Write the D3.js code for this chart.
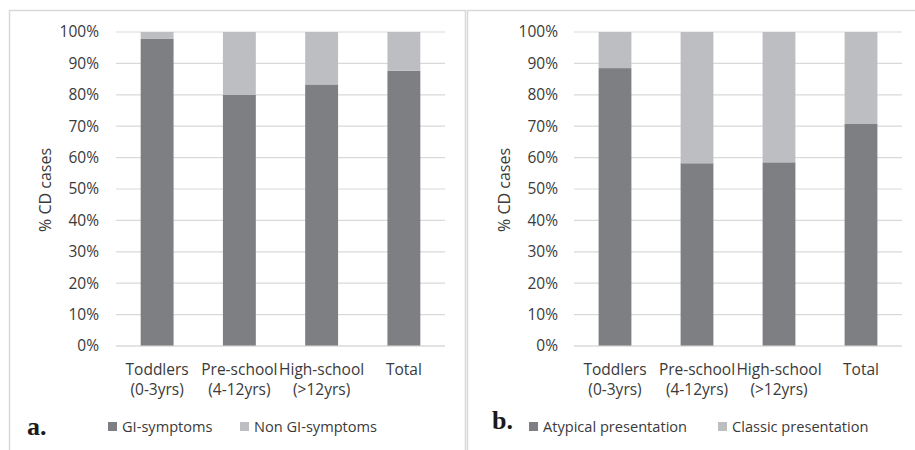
<!DOCTYPE html>
<html>
<head>
<meta charset="utf-8">
<script src="https://cdn.jsdelivr.net/npm/d3@7"></script>
<style>
  body { margin: 0; background: #fff; }
</style>
</head>
<body>
<div id="chart"></div>
<script>
// Data
const categories = [["Toddlers", "(0-3yrs)"], ["Pre-school", "(4-12yrs)"], ["High-school", "(>12yrs)"], ["Total"]];
const giSymptoms = [97.8, 80.0, 83.3, 87.7];
const nonGiSymptoms = [2.2, 20.0, 16.7, 12.3];
const atypical = [88.5, 58.2, 58.5, 70.7];
const classic = [11.5, 41.8, 41.5, 29.3];
const yTicks = [0, 10, 20, 30, 40, 50, 60, 70, 80, 90, 100];

const width = 915, height = 450;
const dark = "#7e7f83", light = "#bdbec1";
const textColor = "#3a3a3a";
const sans = "'Open Sans', sans-serif";

const svg = d3.select("#chart").append("svg")
  .attr("width", width)
  .attr("height", height);

function panel(opts) {
  const g = svg.append("g");

  // panel border
  g.append("rect")
    .attr("x", opts.box[0] + 0.5).attr("y", 10.5)
    .attr("width", opts.box[1]).attr("height", 500)
    .attr("fill", "none").attr("stroke", "#d9d9d9").attr("stroke-width", 1.5);

  const x = d3.scaleBand()
    .domain(categories.map((_, i) => i))
    .range(opts.xRange)
    .paddingInner(0.6)
    .paddingOuter(0.3);

  const y = d3.scaleLinear().domain([0, 100]).range([346, 32]);

  // gridlines
  g.selectAll(".grid")
    .data(yTicks)
    .enter().append("line")
    .attr("x1", opts.xRange[0]).attr("x2", opts.xRange[1])
    .attr("y1", d => y(d)).attr("y2", d => y(d))
    .attr("stroke", "#d9d9d9").attr("stroke-width", 1.2);

  // y axis labels
  const yAxis = g.append("g")
    .attr("transform", `translate(${opts.xRange[0]},0)`)
    .call(d3.axisLeft(y).tickValues(yTicks).tickFormat(d => d + "%").tickSize(0).tickPadding(opts.tickPad));
  yAxis.select(".domain").remove();
  yAxis.selectAll("text")
    .style("font-size", "15.5px").style("font-family", sans).style("fill", textColor);

  // stacked bars
  const stack = d3.stack().keys([0, 1])(opts.series[0].map((_, i) => ({ 0: opts.series[0][i], 1: opts.series[1][i] })));
  const colors = [dark, light];
  stack.forEach((layer, k) => {
    g.selectAll(".bar" + k)
      .data(layer)
      .enter().append("rect")
      .attr("x", (_, i) => x(i))
      .attr("width", x.bandwidth())
      .attr("y", d => y(d[1]))
      .attr("height", d => y(d[0]) - y(d[1]))
      .attr("fill", colors[k]);
  });

  // x axis line
  g.append("line")
    .attr("x1", opts.xRange[0]).attr("x2", opts.xRange[1])
    .attr("y1", y(0)).attr("y2", y(0))
    .attr("stroke", "#d9d9d9").attr("stroke-width", 1.2);

  // category labels
  categories.forEach((lines, i) => {
    const t = g.append("text")
      .attr("text-anchor", "middle")
      .style("font-size", "15.5px").style("font-family", sans).style("fill", textColor);
    lines.forEach((s, j) => {
      t.append("tspan")
        .attr("x", x(i) + x.bandwidth() / 2)
        .attr("y", 374.5 + j * 20.5)
        .text(s);
    });
  });

  // y title
  g.append("text")
    .attr("transform", `translate(${opts.titleX},190) rotate(-90)`)
    .attr("text-anchor", "middle")
    .style("font-size", "16px").style("font-family", sans).style("fill", textColor)
    .text("% CD cases");

  // panel letter
  g.append("text")
    .attr("x", opts.letter[1]).attr("y", opts.letter[2])
    .style("font-family", "'Liberation Serif', serif")
    .style("font-weight", "bold")
    .style("font-size", "26px")
    .style("fill", "#1a1a1a")
    .text(opts.letter[0]);

  // legend
  opts.legend.forEach((item, k) => {
    g.append("rect")
      .attr("x", item[1]).attr("y", 422)
      .attr("width", 9).attr("height", 9)
      .attr("fill", colors[k]);
    g.append("text")
      .attr("x", item[1] + 14).attr("y", 432)
      .style("font-size", "14.6px").style("font-family", sans).style("fill", textColor)
      .text(item[0]);
  });
}

panel({
  box: [9, 456],
  xRange: [116, 445],
  tickPad: 17,
  series: [giSymptoms, nonGiSymptoms],
  titleX: 51,
  letter: ["a.", 27, 435],
  legend: [["GI-symptoms", 108], ["Non GI-symptoms", 240]]
});

panel({
  box: [467, 460],
  xRange: [574, 902],
  tickPad: 16,
  series: [atypical, classic],
  titleX: 510,
  letter: ["b.", 492, 429],
  legend: [["Atypical presentation", 529], ["Classic presentation", 718]]
});
</script>
</body>
</html>
